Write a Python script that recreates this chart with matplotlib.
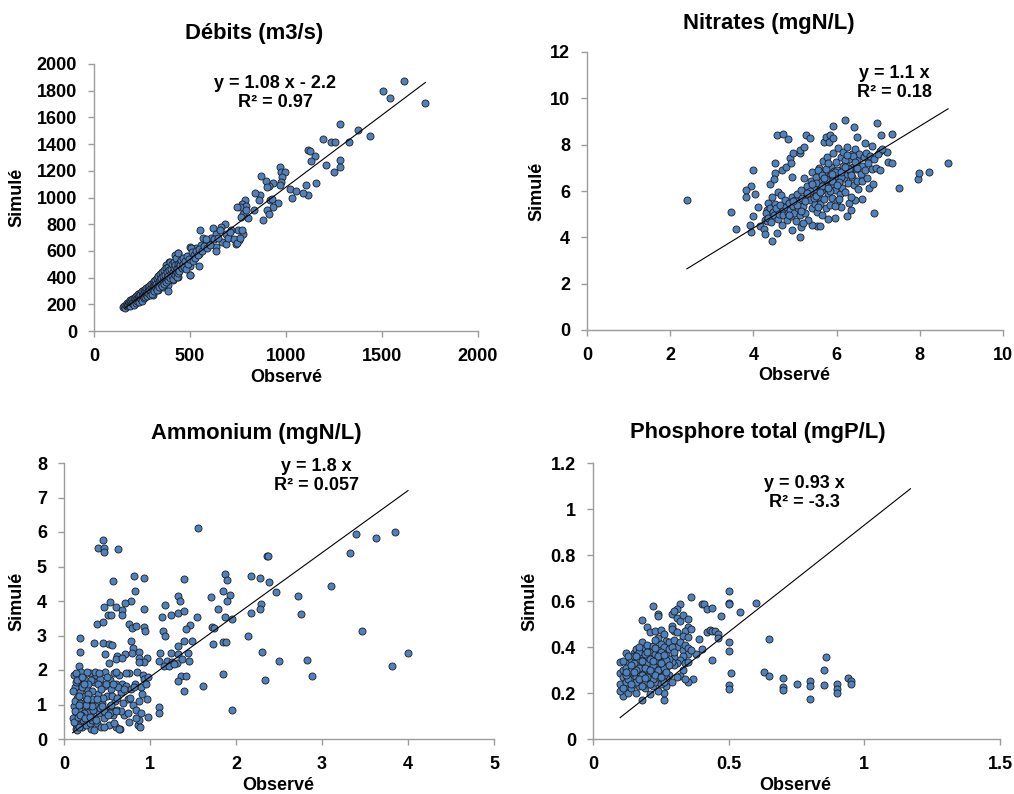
import numpy as np
import matplotlib
matplotlib.use('Agg')
from matplotlib import pyplot as plt

plt.rcParams['font.family'] = ['Liberation Sans', 'DejaVu Sans']
plt.rcParams['font.weight'] = 'bold'

# ---- Débits (m3/s) : observed / simulated pairs
debits_obs = [
    1615, 1505, 1543, 1726, 1279, 1375, 1437, 1193, 1236, 1253,
    1328, 1115, 1123, 1149, 1132, 1279, 1207, 1279, 1248, 1158,
    1106, 1116, 1019, 1054, 1089, 1029, 970, 976, 993, 981,
    972, 967, 932, 911, 898, 903, 868, 918, 927, 958,
    932, 903, 911, 880, 863, 858, 837, 832, 785, 771,
    790, 759, 743, 776, 767, 793, 802, 750, 776, 755,
    738, 680, 663, 715, 689, 667, 689, 620, 634, 611,
    599, 637, 550, 568, 533, 555, 545, 498, 516, 481,
    460, 498, 440, 420, 446, 403, 390, 373, 394, 356,
    411, 429, 437, 411, 385, 359, 333, 307, 498, 385,
    545, 634,
    152, 158, 162, 165, 170, 172, 175, 178, 182, 185,
    188, 190, 195, 198, 200, 205, 208, 210, 212, 215,
    218, 220, 222, 225, 228, 230, 232, 235, 238, 240,
    242, 245, 248, 250, 252, 255, 258, 260, 262, 265,
    268, 270, 272, 275, 278, 280, 283, 285, 288, 290,
    292, 295, 298, 300, 302, 305, 308, 310, 312, 315,
    318, 320, 322, 325, 328, 330, 333, 335, 338, 340,
    343, 345, 348, 350, 352, 355, 358, 360, 362, 365,
    368, 370, 373, 375, 378, 380, 383, 386, 388, 392,
    395, 398, 400, 403, 405, 408, 410, 413, 415, 418,
    420, 423, 425, 428, 430, 433, 435, 438, 440, 443,
    445, 448, 450, 455, 458, 462, 465, 470, 475, 480,
    485, 490, 495, 500, 503, 510, 515, 520, 525, 530,
    540, 545, 560, 575, 585, 590, 605, 625, 645, 655,
    700, 710, 730, 745, 760, 770,
]
debits_sim = [
    1870, 1796, 1748, 1711, 1551, 1509, 1464, 1439, 1417, 1417,
    1417, 1359, 1349, 1309, 1274, 1284, 1247, 1230, 1190, 1110,
    1097, 1022, 1065, 1050, 1035, 995, 1230, 1192, 1192, 1155,
    1117, 1090, 1107, 1088, 1122, 1075, 1160, 980, 990, 960,
    930, 910, 880, 830, 1022, 980, 1030, 910, 980, 955,
    935, 930, 930, 880, 855, 905, 843, 755, 730, 680,
    655, 805, 780, 755, 730, 668, 655, 768, 730, 693,
    655, 630, 755, 693, 618, 643, 580, 630, 580, 556,
    501, 486, 586, 568, 531, 506, 520, 494, 456, 431,
    481, 444, 406, 381, 344, 332, 307, 270, 419, 300,
    489, 598,
    182, 190, 176, 198, 185, 210, 205, 192, 215, 200,
    230, 188, 222, 206, 240, 218, 198, 250, 230, 245,
    212, 262, 250, 228, 240, 275, 262, 218, 250, 285,
    270, 238, 260, 300, 228, 270, 245, 310, 285, 300,
    258, 275, 320, 295, 265, 330, 288, 305, 340, 270,
    315, 350, 300, 325, 280, 360, 315, 335, 372, 300,
    340, 385, 320, 355, 400, 310, 345, 410, 365, 330,
    385, 425, 355, 395, 340, 440, 375, 410, 350, 455,
    390, 420, 365, 470, 400, 445, 380, 480, 415, 455,
    395, 515, 432, 468, 410, 505, 440, 390, 520, 470,
    418, 492, 448, 545, 408, 472, 505, 432, 585, 480,
    452, 518, 492, 532, 470, 502, 548, 482, 522, 462,
    562, 502, 542, 422, 625, 592, 522, 572, 546, 602,
    566, 612, 600, 640, 690, 620, 645, 690, 700, 760,
    700, 740, 690, 660, 700, 755,
]

# ---- Nitrates (mgN/L)
nitrates_obs = [
    2.40, 3.47, 3.59, 3.91, 3.95, 3.99, 3.99, 3.94, 3.83, 3.83,
    4.05, 4.10, 4.15, 4.25, 4.27, 4.27, 4.32, 4.45, 4.35, 4.33,
    4.40, 4.45, 4.53, 4.57, 4.71, 4.83, 4.51, 4.50, 4.60, 4.66,
    4.56, 4.69, 4.79, 4.87, 4.90, 4.95, 4.93, 5.13, 5.11, 5.22,
    5.26, 5.35, 5.69, 5.75, 5.83, 5.91, 5.81, 5.91, 6.19, 6.41,
    6.97, 7.07, 7.34, 6.48, 6.69, 6.85, 7.05, 7.20, 7.23, 7.34,
    7.51, 7.95, 7.99, 8.23, 8.68, 6.89, 6.61, 6.25, 5.96, 5.80,
    5.53, 5.11, 4.92, 5.15, 5.40, 5.60, 6.10, 6.35, 6.45, 6.30,
    4.30, 4.35, 4.40, 4.42, 4.48, 4.50, 4.52, 4.55, 4.58, 4.62,
    4.65, 4.68, 4.70, 4.72, 4.75, 4.78, 4.80, 4.82, 4.85, 4.88,
    4.90, 4.92, 4.95, 4.98, 5.00, 5.02, 5.05, 5.08, 5.10, 5.12,
    5.15, 5.18, 5.20, 5.22, 5.25, 5.28, 5.30, 5.32, 5.35, 5.38,
    5.40, 5.42, 5.45, 5.48, 5.50, 5.52, 5.54, 5.56, 5.58, 5.60,
    5.62, 5.64, 5.66, 5.68, 5.70, 5.72, 5.74, 5.76, 5.78, 5.80,
    5.82, 5.84, 5.86, 5.88, 5.90, 5.92, 5.94, 5.96, 5.98, 6.00,
    6.02, 6.04, 6.06, 6.08, 6.10, 6.12, 6.14, 6.16, 6.18, 6.20,
    6.22, 6.24, 6.26, 6.28, 6.30, 6.32, 6.34, 6.36, 6.38, 6.40,
    6.42, 6.44, 6.46, 6.48, 6.50, 6.52, 6.55, 6.58, 6.60, 6.62,
    6.65, 6.68, 6.70, 6.72, 6.75, 6.78, 6.80, 6.85, 6.88, 6.90,
    6.95, 7.00, 7.05, 7.10, 5.55, 5.65, 5.75, 5.85, 5.50, 5.45,
    5.35, 5.25, 5.15, 5.05, 4.95, 4.85, 5.60, 5.70, 5.80, 5.90,
    6.00, 6.10, 6.20, 6.30, 6.40, 6.50, 5.95, 6.05, 5.55, 5.45,
    5.65, 5.75, 5.85, 5.95, 6.05, 6.15, 5.50, 5.60, 5.70, 5.80,
    5.90, 6.00, 6.10, 6.20, 5.40, 5.30, 6.25, 6.35, 6.45, 5.20,
]
nitrates_sim = [
    5.62, 5.10, 4.38, 4.52, 4.25, 4.94, 6.90, 6.20, 6.05, 5.76,
    5.86, 5.32, 4.47, 4.35, 4.14, 4.75, 4.71, 3.86, 5.50, 5.19,
    6.30, 5.76, 7.20, 8.41, 8.46, 8.26, 6.77, 6.50, 5.95, 5.81,
    4.18, 6.89, 7.02, 7.41, 7.22, 7.64, 6.60, 7.64, 7.75, 7.90,
    8.40, 8.27, 8.11, 8.34, 8.41, 8.82, 8.10, 8.30, 9.05, 8.75,
    8.92, 8.40, 8.46, 8.33, 8.07, 7.93, 7.71, 7.68, 7.25, 7.23,
    6.15, 6.53, 6.77, 6.82, 7.20, 5.04, 5.65, 4.90, 4.84, 4.80,
    4.47, 4.03, 4.30, 4.45, 4.55, 4.50, 5.30, 5.20, 5.60, 5.50,
    5.05, 4.85, 5.25, 4.65, 5.10, 4.95, 5.45, 5.25, 4.80, 5.00,
    5.40, 4.55, 5.15, 4.95, 5.60, 5.30, 4.75, 5.05, 5.50, 5.20,
    4.90, 5.75, 5.35, 5.05, 5.60, 4.70, 5.85, 5.25, 5.50, 4.95,
    6.05, 5.70, 5.35, 6.55, 5.05, 5.85, 6.20, 4.75, 5.60, 6.45,
    5.25, 6.80, 5.95, 5.45, 6.60, 5.10, 6.25, 5.75, 7.00, 5.45,
    6.40, 4.95, 6.05, 7.30, 5.65, 6.75, 5.25, 6.20, 7.45, 5.90,
    6.55, 5.40, 7.05, 6.30, 5.70, 7.65, 6.85, 6.05, 7.25, 5.55,
    6.65, 7.85, 6.35, 5.85, 7.45, 6.95, 6.15, 7.70, 6.55, 5.95,
    7.15, 6.75, 7.90, 6.35, 7.40, 6.85, 5.75, 7.60, 6.60, 7.05,
    6.25, 7.80, 6.95, 6.45, 7.35, 6.10, 7.60, 6.75, 7.10, 6.45,
    7.45, 6.90, 7.65, 6.55, 7.20, 6.15, 7.50, 6.95, 6.30, 7.40,
    7.00, 7.60, 6.90, 7.80, 6.90, 6.70, 6.95, 6.65, 6.35, 6.10,
    6.00, 5.55, 5.15, 5.40, 5.55, 4.95, 6.10, 6.30, 7.20, 6.45,
    6.90, 6.60, 7.35, 6.95, 7.50, 7.00, 5.35, 5.65, 5.30, 5.70,
    6.20, 6.50, 6.00, 6.80, 6.40, 7.10, 5.80, 5.95, 6.55, 6.15,
    6.75, 6.25, 6.80, 7.05, 6.30, 5.90, 7.55, 6.70, 7.25, 4.60,
]

# ---- Ammonium (mgN/L)
ammonium_obs = [
    1.56, 3.40, 3.63, 3.85, 3.33, 2.36, 2.37, 3.11, 2.72, 2.75,
    3.46, 4.00, 3.81, 2.83, 2.88, 2.50, 2.34, 2.30, 2.14, 2.17,
    2.28, 2.38, 2.47, 2.29, 2.18, 2.28, 1.87, 1.89, 1.85, 1.93,
    1.89, 1.71, 1.79, 1.87, 1.95, 1.72, 1.74, 1.73, 1.85, 1.88,
    1.85, 1.62, 1.95, 1.40, 1.33, 1.35, 1.17, 1.14, 1.24, 1.32,
    1.40, 1.55, 1.15, 1.17, 1.47, 1.42, 1.39, 1.49, 1.33, 1.12,
    1.24, 1.33, 1.44, 1.11, 1.20, 1.25, 1.31, 1.37, 1.45, 1.16,
    1.22, 1.28, 1.36, 1.32, 1.42, 1.40, 1.11, 1.11, 0.98, 0.45,
    0.40, 0.47, 0.46, 0.63, 0.57, 0.81, 0.93, 0.82, 0.53, 0.47,
    0.60, 0.51, 0.55, 0.67, 0.67, 0.78, 0.71, 0.38, 0.45, 0.76,
    0.79, 0.84, 0.93, 0.93, 0.94, 0.19, 0.35, 0.45, 0.52, 0.56,
    0.19, 0.48, 0.62, 0.60, 0.71, 0.78, 0.80, 0.79, 0.87, 0.87,
    0.96, 0.93, 0.87, 0.52, 0.17, 0.67,
    0.12, 0.14, 0.15, 0.16, 0.18, 0.20, 0.22, 0.13, 0.14, 0.17,
    0.19, 0.21, 0.23, 0.24, 0.26, 0.27, 0.28, 0.30, 0.31, 0.32,
    0.33, 0.35, 0.36, 0.37, 0.38, 0.40, 0.41, 0.42, 0.43, 0.44,
    0.46, 0.47, 0.48, 0.49, 0.50, 0.52, 0.53, 0.54, 0.55, 0.57,
    0.58, 0.59, 0.60, 0.61, 0.62, 0.64, 0.65, 0.66, 0.68, 0.70,
    0.72, 0.74, 0.75, 0.76, 0.78, 0.80, 0.82, 0.84, 0.85, 0.86,
    0.87, 0.88, 0.90, 0.91, 0.92, 0.93, 0.95, 0.97, 0.98, 0.12,
    0.13, 0.15, 0.16, 0.18, 0.20, 0.22, 0.24, 0.25, 0.27, 0.29,
    0.31, 0.33, 0.34, 0.36, 0.39, 0.42, 0.45, 0.47, 0.50, 0.53,
    0.56, 0.58, 0.60, 0.63, 0.66, 0.69, 0.72, 0.11, 0.13, 0.14,
    0.17, 0.19, 0.21, 0.23, 0.26, 0.28, 0.30, 0.32, 0.35, 0.38,
    0.41, 0.44, 0.46, 0.49, 0.51, 0.55, 0.57, 0.60, 0.62, 0.64,
    0.70, 0.74, 0.77, 0.81, 0.84, 0.87, 0.89,
    0.11, 0.12, 0.14, 0.16, 0.18, 0.20, 0.23, 0.25, 0.28, 0.33,
    0.13, 0.15, 0.17, 0.19, 0.21, 0.24, 0.27, 0.30, 0.37, 0.43,
]
ammonium_sim = [
    6.13, 5.95, 5.84, 5.99, 5.40, 5.30, 5.30, 4.44, 4.14, 3.63,
    3.14, 2.49, 2.12, 2.29, 1.83, 2.27, 1.72, 2.53, 2.99, 4.73,
    4.66, 4.54, 4.27, 3.92, 3.64, 3.76, 4.79, 4.62, 4.29, 4.17,
    3.99, 4.12, 3.76, 3.55, 3.48, 3.26, 3.21, 2.76, 2.80, 2.82,
    1.89, 1.54, 0.83, 4.65, 4.14, 3.99, 3.87, 3.54, 3.60, 3.65,
    3.70, 3.54, 3.14, 3.00, 3.29, 3.18, 2.85, 2.83, 2.69, 2.50,
    2.48, 2.47, 2.50, 2.27, 2.27, 2.22, 2.20, 2.32, 2.26, 2.12,
    2.12, 2.17, 1.83, 1.67, 1.83, 1.38, 0.94, 0.76, 0.63, 5.77,
    5.55, 5.55, 5.43, 5.50, 4.58, 4.72, 4.67, 4.29, 3.98, 3.83,
    3.83, 3.60, 3.59, 3.74, 3.60, 4.00, 3.93, 3.32, 3.38, 3.32,
    3.21, 3.28, 3.78, 3.24, 3.14, 2.94, 2.79, 2.77, 2.74, 2.72,
    2.51, 2.45, 2.40, 2.33, 2.45, 2.85, 2.65, 2.50, 2.53, 2.35,
    2.35, 2.22, 2.22, 2.19, 2.13, 2.35,
    0.95, 0.75, 1.20, 0.45, 1.60, 0.90, 1.85, 1.50, 0.30, 0.60,
    1.35, 0.35, 1.05, 1.70, 0.55, 1.45, 0.80, 1.90, 0.30, 1.15,
    0.65, 1.65, 0.95, 1.85, 0.45, 1.30, 0.75, 1.75, 0.35, 1.05,
    1.55, 0.60, 1.95, 0.85, 1.25, 0.40, 1.70, 0.95, 1.45, 0.70,
    1.90, 1.10, 0.35, 1.60, 0.85, 1.85, 0.30, 1.35, 1.60, 0.70,
    1.55, 1.15, 1.90, 0.50, 1.45, 1.00, 1.60, 0.85, 1.95, 0.40,
    0.55, 0.35, 1.50, 1.30, 1.85, 1.75, 1.60, 1.15, 1.80, 1.85,
    1.10, 0.25, 1.75, 0.85, 1.95, 0.55, 1.25, 0.40, 1.95, 0.95,
    1.70, 1.40, 0.85, 1.95, 1.60, 0.90, 1.20, 0.80, 1.80, 0.75,
    1.25, 0.45, 1.95, 1.50, 0.80, 1.05, 1.90, 0.60, 0.45, 1.65,
    0.35, 1.05, 1.50, 0.75, 1.10, 1.60, 0.45, 0.95, 0.25, 1.15,
    1.90, 0.95, 0.35, 1.60, 0.70, 1.00, 1.60, 0.80, 1.20, 0.30,
    1.45, 0.75, 1.20, 1.50, 0.60, 1.10, 0.75,
    1.40, 0.50, 1.90, 0.65, 1.25, 0.70, 1.60, 1.00, 1.30, 0.55,
    0.80, 1.70, 1.00, 0.70, 1.80, 0.60, 1.15, 0.65, 0.55, 1.45,
]

# ---- Phosphore total (mgP/L)
phosphore_obs = [
    0.50, 0.50, 0.50, 0.50, 0.50, 0.50, 0.50, 0.51, 0.60, 0.54,
    0.47, 0.36, 0.40, 0.41, 0.42, 0.44, 0.32, 0.31, 0.42, 0.43,
    0.44, 0.45, 0.46, 0.46, 0.39, 0.40, 0.38, 0.44, 0.37, 0.35,
    0.65, 0.63, 0.65, 0.70, 0.70, 0.70, 0.75, 0.80, 0.80, 0.80,
    0.85, 0.86, 0.85, 0.90, 0.90, 0.90, 0.94, 0.95, 0.95, 0.22,
    0.24, 0.24, 0.18, 0.26, 0.26, 0.18, 0.11, 0.10, 0.10,
    0.29, 0.30, 0.31, 0.32, 0.33, 0.35, 0.35, 0.34, 0.29, 0.30,
    0.29, 0.31, 0.33, 0.35, 0.36, 0.20, 0.21, 0.23, 0.24, 0.25,
    0.26, 0.27, 0.28, 0.30, 0.31, 0.32, 0.33, 0.34, 0.35, 0.35,
    0.36, 0.33, 0.32, 0.30, 0.31, 0.34, 0.33, 0.35, 0.30, 0.29,
    0.32, 0.31, 0.34, 0.28, 0.29, 0.27, 0.27,
    0.10, 0.10, 0.11, 0.11, 0.12, 0.12, 0.12, 0.13, 0.13, 0.13,
    0.14, 0.14, 0.14, 0.15, 0.15, 0.15, 0.16, 0.16, 0.16, 0.16,
    0.17, 0.17, 0.17, 0.18, 0.18, 0.18, 0.18, 0.19, 0.19, 0.19,
    0.19, 0.20, 0.20, 0.20, 0.20, 0.21, 0.21, 0.21, 0.21, 0.22,
    0.22, 0.22, 0.22, 0.23, 0.23, 0.23, 0.23, 0.24, 0.24, 0.24,
    0.25, 0.25, 0.25, 0.25, 0.26, 0.26, 0.26, 0.27, 0.27, 0.28,
    0.28, 0.11, 0.12, 0.13, 0.14, 0.15, 0.16, 0.17, 0.18, 0.19,
    0.20, 0.21, 0.22, 0.23, 0.24, 0.25, 0.26, 0.27, 0.15, 0.17,
    0.19, 0.21, 0.23, 0.20, 0.18, 0.16, 0.14, 0.12, 0.11, 0.22,
    0.24, 0.26, 0.28, 0.29, 0.30,
    0.13, 0.15, 0.17, 0.19, 0.21, 0.23, 0.25, 0.27, 0.14, 0.16,
    0.18, 0.20, 0.22, 0.24, 0.26, 0.12, 0.17, 0.21, 0.25, 0.19,
]
phosphore_sim = [
    0.643, 0.590, 0.586, 0.422, 0.383, 0.236, 0.218, 0.285, 0.591, 0.554,
    0.533, 0.616, 0.585, 0.585, 0.564, 0.568, 0.585, 0.567, 0.464, 0.474,
    0.470, 0.468, 0.455, 0.440, 0.434, 0.390, 0.369, 0.344, 0.259, 0.247,
    0.434, 0.292, 0.273, 0.266, 0.227, 0.215, 0.239, 0.254, 0.230, 0.176,
    0.302, 0.357, 0.233, 0.237, 0.218, 0.198, 0.266, 0.252, 0.239, 0.580,
    0.545, 0.535, 0.519, 0.169, 0.198, 0.169, 0.186, 0.335, 0.285,
    0.545, 0.555, 0.525, 0.515, 0.540, 0.520, 0.485, 0.470, 0.490, 0.470,
    0.480, 0.465, 0.450, 0.445, 0.480, 0.485, 0.465, 0.470, 0.440, 0.475,
    0.455, 0.425, 0.420, 0.430, 0.400, 0.420, 0.385, 0.410, 0.395, 0.370,
    0.385, 0.360, 0.345, 0.355, 0.330, 0.330, 0.300, 0.335, 0.320, 0.335,
    0.275, 0.270, 0.260, 0.280, 0.250, 0.230, 0.265,
    0.210, 0.240, 0.270, 0.300, 0.230, 0.250, 0.375, 0.200, 0.280, 0.330,
    0.220, 0.260, 0.350, 0.240, 0.300, 0.375, 0.200, 0.270, 0.330, 0.390,
    0.230, 0.290, 0.350, 0.250, 0.310, 0.370, 0.420, 0.220, 0.280, 0.340,
    0.395, 0.240, 0.300, 0.360, 0.410, 0.195, 0.260, 0.320, 0.380, 0.230,
    0.290, 0.350, 0.405, 0.250, 0.310, 0.370, 0.430, 0.270, 0.330, 0.390,
    0.240, 0.300, 0.360, 0.415, 0.280, 0.340, 0.400, 0.310, 0.370, 0.350,
    0.390, 0.340, 0.310, 0.260, 0.300, 0.330, 0.250, 0.380, 0.280, 0.250,
    0.330, 0.290, 0.260, 0.340, 0.300, 0.380, 0.250, 0.345, 0.360, 0.310,
    0.310, 0.350, 0.280, 0.270, 0.340, 0.300, 0.240, 0.280, 0.220, 0.320,
    0.360, 0.310, 0.320, 0.400, 0.380,
    0.360, 0.290, 0.260, 0.370, 0.240, 0.395, 0.270, 0.290, 0.320, 0.360,
    0.230, 0.380, 0.340, 0.210, 0.365, 0.290, 0.400, 0.300, 0.330, 0.265,
]

titles = ['Débits (m3/s)', 'Nitrates (mgN/L)', 'Ammonium (mgN/L)', 'Phosphore total (mgP/L)']
slopes = [1.08, 1.1, 1.8, 0.93]
intercepts = [-2.2, 0.0, 0.0, 0.0]
r2_values = ['0.97', '0.18', '0.057', '-3.3']
equations = ['y = 1.08 x - 2.2', 'y = 1.1 x', 'y = 1.8 x', 'y = 0.93 x']
trend_ranges = [(160, 1726), (2.40, 8.68), (0.10, 4.00), (0.10, 1.17)]
x_limits = [(0, 2000, 500), (0, 10, 2), (0, 5, 1), (0, 1.5, 0.5)]
y_limits = [(0, 2000, 200), (0, 12, 2), (0, 8, 1), (0, 1.2, 0.2)]

series = [
    (debits_obs, debits_sim),
    (nitrates_obs, nitrates_sim),
    (ammonium_obs, ammonium_sim),
    (phosphore_obs, phosphore_sim),
]

W, H = 1014, 794
fig = plt.figure(figsize=(W / 100, H / 100), dpi=100)


def fx(px):
    return px / W


def fy(py):
    return 1 - py / H


def tick_values(lo, hi, step):
    n = int(round((hi - lo) / step))
    return [round(lo + k * step, 6) for k in range(n + 1)]


# axes boxes in pixels: left, right, top, bottom
boxes = [(94, 478, 64, 331), (587, 1003, 52, 330), (64, 494, 463, 739), (593, 1000, 463, 739)]
title_pos = [(254, 33), (769, 23), (256, 434), (758, 432)]
eq_pos = [(275, 93), (894, 83), (316, 476), (804, 493)]
xlabel_pos = [(286, 378), (794, 376), (278, 785), (795, 785)]
ylabel_pos = [(17, 197), (537, 191), (17, 601), (530, 601)]

axis_grey = '#9c9c9c'
point_blue = '#4f81bd'

for i, (obs, sim) in enumerate(series):
    l, r, t, b = boxes[i]
    ax = fig.add_axes([fx(l), fy(b), fx(r) - fx(l), fy(t) - fy(b)])

    ax.scatter(obs, sim, s=26, c=point_blue, edgecolors='#1e1e1e',
               linewidths=0.6, zorder=2, clip_on=False)

    x0, x1 = trend_ranges[i]
    tx = np.array([x0, x1])
    ax.plot(tx, slopes[i] * tx + intercepts[i], color='black', lw=0.8, zorder=3)

    xmin, xmax, xstep = x_limits[i]
    ymin, ymax, ystep = y_limits[i]
    ax.set_xlim(xmin, xmax)
    ax.set_ylim(ymin, ymax)
    xt = tick_values(xmin, xmax, xstep)
    yt = tick_values(ymin, ymax, ystep)
    ax.set_xticks(xt)
    ax.set_xticklabels(['%g' % v for v in xt], fontweight='bold', fontsize=13)
    ax.set_yticks(yt)
    ax.set_yticklabels(['%g' % v for v in yt], fontweight='bold', fontsize=13)

    for side in ('top', 'right'):
        ax.spines[side].set_visible(False)
    for side in ('left', 'bottom'):
        ax.spines[side].set_color(axis_grey)
        ax.spines[side].set_linewidth(1.0)
    ax.tick_params(direction='out', length=4.3, width=1.0, color=axis_grey, pad=8)

    tx_, ty_ = title_pos[i]
    fig.text(fx(tx_), fy(ty_), titles[i], ha='center', va='center',
             fontsize=15.8, fontweight='bold')
    ex, ey = eq_pos[i]
    fig.text(fx(ex), fy(ey), equations[i] + '\nR² = ' + r2_values[i],
             ha='center', va='center', multialignment='center',
             fontsize=13, fontweight='bold', linespacing=1.15)
    lx, ly = xlabel_pos[i]
    fig.text(fx(lx), fy(ly), 'Observé', ha='center', va='center',
             fontsize=13, fontweight='bold')
    yx, yy = ylabel_pos[i]
    fig.text(fx(yx), fy(yy), 'Simulé', ha='center', va='center',
             rotation=90, fontsize=13, fontweight='bold')

fig.savefig('out.png', dpi=100)
